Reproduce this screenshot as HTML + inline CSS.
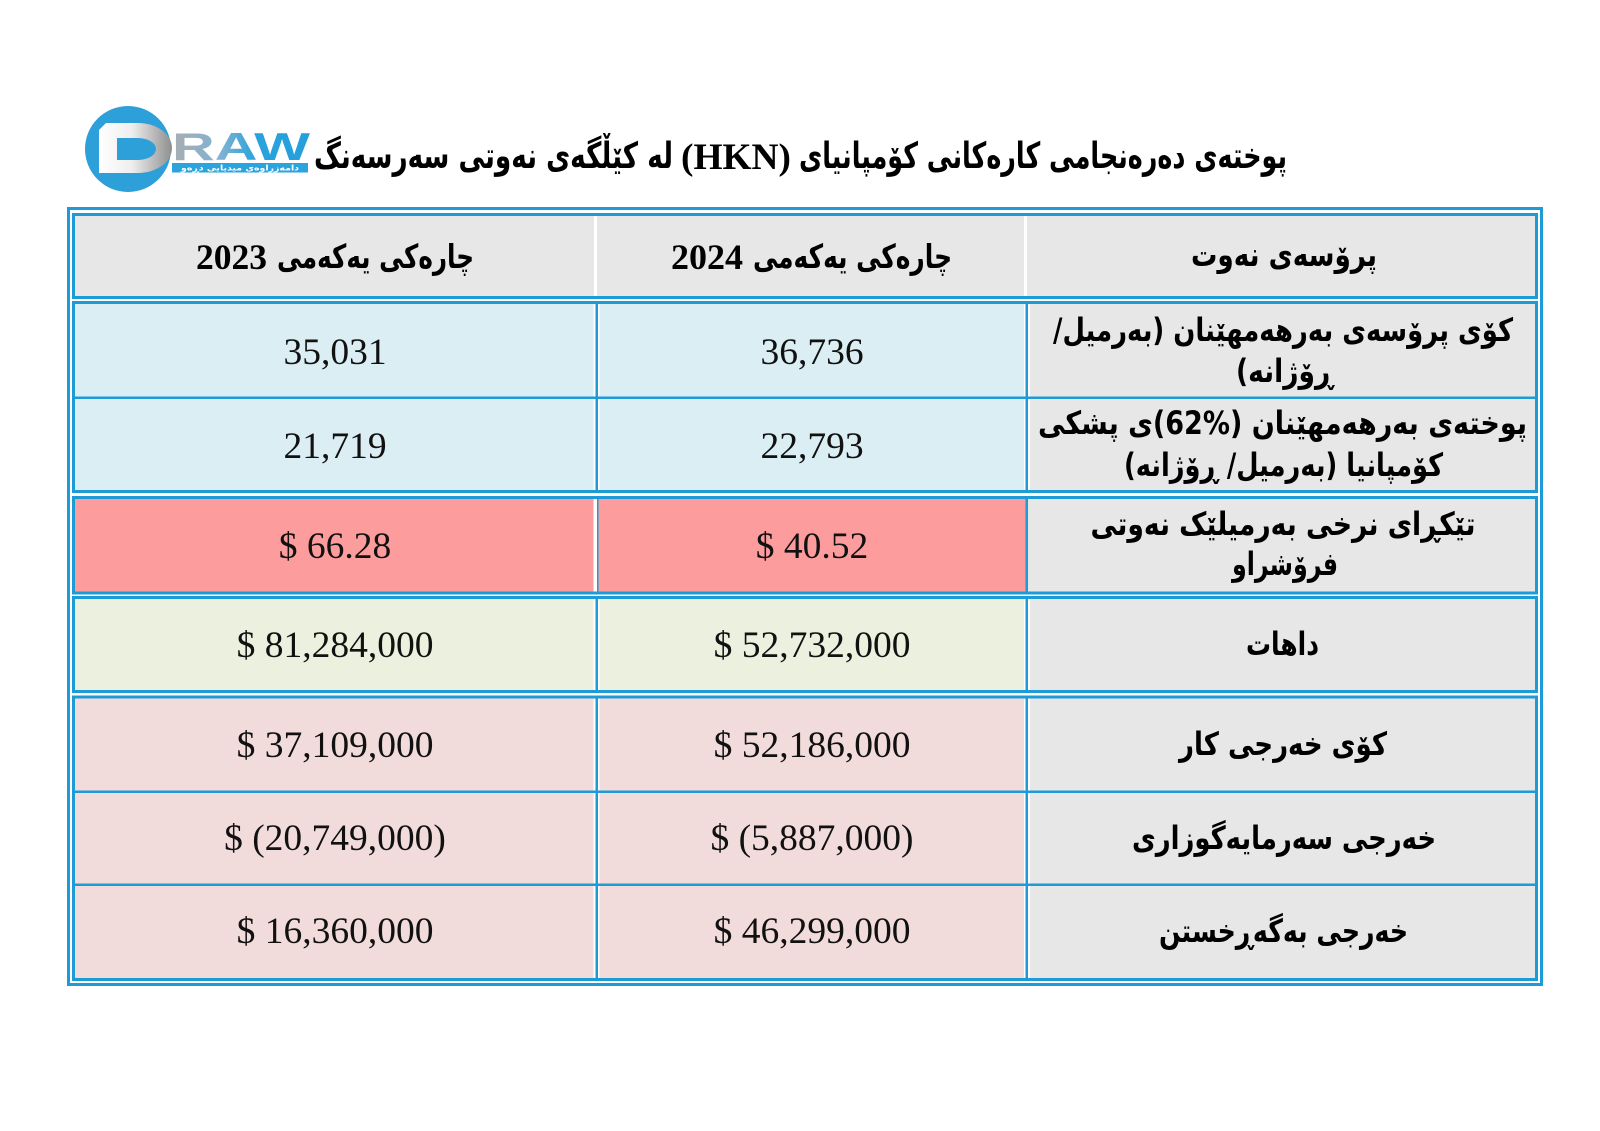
<!DOCTYPE html>
<html>
<head>
<meta charset="utf-8">
<style>
  html,body{margin:0;padding:0;background:#fff;}
  svg{display:block;}
  .ar{font-family:"DejaVu Sans",sans-serif;font-weight:bold;fill:#000;}
  .num{font-family:"Liberation Serif",serif;font-size:37.5px;fill:#111;}
  .lat{font-family:"Liberation Serif",serif;font-weight:bold;fill:#000;}
</style>
</head>
<body>
<svg width="1600" height="1131" viewBox="0 0 1600 1131" xmlns="http://www.w3.org/2000/svg">
  <defs>
    <linearGradient id="dgrad" x1="0" y1="0" x2="1" y2="0">
      <stop offset="0" stop-color="#ffffff"/>
      <stop offset="0.45" stop-color="#eeeeee"/>
      <stop offset="1" stop-color="#8f8f8f"/>
    </linearGradient>
    <linearGradient id="rawgrad" x1="0" y1="0" x2="1" y2="0">
      <stop offset="0" stop-color="#a9adb1"/>
      <stop offset="0.35" stop-color="#7fb3d3"/>
      <stop offset="0.6" stop-color="#2aa3dd"/>
      <stop offset="1" stop-color="#249fdc"/>
    </linearGradient>
  </defs>
  <rect width="1600" height="1131" fill="#ffffff"/>

  <!-- Logo -->
  <circle cx="128" cy="149" r="43" fill="#2d9fd9"/>
  <path d="M99,130 L106,123 H138 A34,25 0 0 1 138,173 H99 Z" fill="url(#dgrad)"/>
  <path d="M117,138 H138 A18,11 0 0 1 138,160 H117 Z" fill="#2d9fd9"/>
  <text x="172" y="160" font-family="Liberation Sans, sans-serif" font-weight="bold" font-size="39" textLength="138" lengthAdjust="spacingAndGlyphs" fill="url(#rawgrad)">RAW</text>
  <rect x="172" y="163" width="136" height="9.5" fill="#2ba3dd"/>
  <text x="240" y="170.5" direction="rtl" text-anchor="middle" font-family="DejaVu Sans, sans-serif" font-weight="bold" font-size="8" fill="#ffffff" textLength="118" lengthAdjust="spacingAndGlyphs">دامەزراوەی میدیایی دڕەو</text>

  <!-- Title -->
  <text class="ar" x="1043" y="168" direction="rtl" text-anchor="middle" font-size="36" textLength="488" lengthAdjust="spacingAndGlyphs">پوختەی دەرەنجامی کارەکانی کۆمپانیای</text>
  <text class="lat" x="681" y="169" font-size="37" textLength="110" lengthAdjust="spacingAndGlyphs">(HKN)</text>
  <text class="ar" x="493.5" y="168" direction="rtl" text-anchor="middle" font-size="36" textLength="359" lengthAdjust="spacingAndGlyphs">لە کێڵگەی نەوتی سەرسەنگ</text>

  <!-- Cell fills -->
  <rect x="75" y="216" width="1460" height="80" fill="#e7e7e7"/>
  <rect x="75" y="304" width="1460" height="186" fill="#e7e7e7"/>
  <rect x="75" y="304" width="952" height="186" fill="#dbeef4"/>
  <rect x="75" y="499" width="1460" height="93" fill="#e7e7e7"/>
  <rect x="75" y="499" width="952" height="93" fill="#fd9c9c"/>
  <rect x="75" y="599" width="1460" height="91" fill="#e7e7e7"/>
  <rect x="75" y="599" width="952" height="91" fill="#ebf1de"/>
  <rect x="75" y="698" width="1460" height="280" fill="#e7e7e7"/>
  <rect x="75" y="698" width="952" height="280" fill="#f2dcdb"/>

  <!-- header dividers (white) -->
  <rect x="594" y="216" width="3" height="80" fill="#ffffff"/>
  <rect x="1024" y="216" width="3" height="80" fill="#ffffff"/>

  <!-- body dividers -->
  <g fill="#ffffff">
    <rect x="593.5" y="304" width="6" height="186"/>
    <rect x="1024" y="304" width="6" height="186"/>
    <rect x="593.5" y="499" width="5" height="93"/>
    <rect x="1024" y="599" width="6" height="91"/>
    <rect x="593.5" y="599" width="6" height="91"/>
    <rect x="593.5" y="698" width="6" height="280"/>
    <rect x="1024" y="698" width="6" height="280"/>
  </g>
  <g fill="#1d9bd7">
    <rect x="595.5" y="304" width="2.5" height="186"/>
    <rect x="1025.5" y="304" width="2.5" height="186"/>
    <rect x="597" y="499" width="1.5" height="93"/>
    <rect x="1025.5" y="499" width="2.5" height="93"/>
    <rect x="595.5" y="599" width="2.5" height="91"/>
    <rect x="1025.5" y="599" width="2.5" height="91"/>
    <rect x="595.5" y="698" width="2.5" height="280"/>
    <rect x="1025.5" y="698" width="2.5" height="280"/>
    <rect x="75" y="396.5" width="1460" height="2.5"/>
    <rect x="75" y="790.5" width="1460" height="2.5"/>
    <rect x="75" y="883.5" width="1460" height="2.5"/>
  </g>

  <!-- Borders -->
  <g fill="none" stroke="#1d9bd7" stroke-width="3">
    <rect x="68.5" y="208.5" width="1473" height="776"/>
    <rect x="73.5" y="214.5" width="1463" height="83"/>
    <rect x="73.5" y="302.5" width="1463" height="189"/>
    <rect x="73.5" y="497.5" width="1463" height="95.5"/>
    <rect x="73.5" y="597.5" width="1463" height="94"/>
    <rect x="73.5" y="697" width="1463" height="282.5"/>
  </g>

  <!-- Header texts -->
  <text class="lat" x="196" y="269" font-size="36" textLength="71" lengthAdjust="spacingAndGlyphs">2023</text>
  <text class="ar" x="375.5" y="268" direction="rtl" text-anchor="middle" font-size="33" textLength="197" lengthAdjust="spacingAndGlyphs">چارەکی یەکەمی</text>
  <text class="lat" x="671" y="269" font-size="36" textLength="72" lengthAdjust="spacingAndGlyphs">2024</text>
  <text class="ar" x="852.5" y="268" direction="rtl" text-anchor="middle" font-size="33" textLength="199" lengthAdjust="spacingAndGlyphs">چارەکی یەکەمی</text>
  <text class="ar" x="1284" y="266" direction="rtl" text-anchor="middle" font-size="33" textLength="186" lengthAdjust="spacingAndGlyphs">پرۆسەی نەوت</text>

  <!-- Label column -->
  <text class="ar" x="1283" y="341" direction="rtl" text-anchor="middle" font-size="32" textLength="460" lengthAdjust="spacingAndGlyphs">کۆی پرۆسەی بەرهەمهێنان (بەرمیل/</text>
  <text class="ar" x="1284.5" y="382" direction="rtl" text-anchor="middle" font-size="32" textLength="97" lengthAdjust="spacingAndGlyphs">ڕۆژانە)</text>

  <text class="ar" x="1282.5" y="434" direction="rtl" text-anchor="middle" font-size="32" textLength="489" lengthAdjust="spacingAndGlyphs">پوختەی بەرهەمهێنان (%62)ی پشکی</text>
  <text class="ar" x="1283.5" y="476" direction="rtl" text-anchor="middle" font-size="32" textLength="319" lengthAdjust="spacingAndGlyphs">کۆمپانیا (بەرمیل/ ڕۆژانە)</text>

  <text class="ar" x="1283" y="535" direction="rtl" text-anchor="middle" font-size="32" textLength="385" lengthAdjust="spacingAndGlyphs">تێکڕای نرخی بەرمیلێک نەوتی</text>
  <text class="ar" x="1285" y="575" direction="rtl" text-anchor="middle" font-size="32" textLength="106" lengthAdjust="spacingAndGlyphs">فرۆشراو</text>

  <text class="ar" x="1282.5" y="655" direction="rtl" text-anchor="middle" font-size="32" textLength="73" lengthAdjust="spacingAndGlyphs">داهات</text>
  <text class="ar" x="1283" y="755" direction="rtl" text-anchor="middle" font-size="32" textLength="208" lengthAdjust="spacingAndGlyphs">کۆی خەرجی کار</text>
  <text class="ar" x="1284" y="849" direction="rtl" text-anchor="middle" font-size="32" textLength="304" lengthAdjust="spacingAndGlyphs">خەرجی سەرمایەگوزاری</text>
  <text class="ar" x="1283.5" y="942" direction="rtl" text-anchor="middle" font-size="32" textLength="249" lengthAdjust="spacingAndGlyphs">خەرجی بەگەڕخستن</text>

  <!-- Numbers col 2023 -->
  <g class="num" text-anchor="middle">
    <text x="335" y="364">35,031</text>
    <text x="335" y="458">21,719</text>
    <text x="335" y="558">$ 66.28</text>
    <text x="335" y="657">$ 81,284,000</text>
    <text x="335" y="757">$ 37,109,000</text>
    <text x="335" y="850">$ (20,749,000)</text>
    <text x="335" y="943">$ 16,360,000</text>
  </g>
  <!-- Numbers col 2024 -->
  <g class="num" text-anchor="middle">
    <text x="812" y="364">36,736</text>
    <text x="812" y="458">22,793</text>
    <text x="812" y="558">$ 40.52</text>
    <text x="812" y="657">$ 52,732,000</text>
    <text x="812" y="757">$ 52,186,000</text>
    <text x="812" y="850">$ (5,887,000)</text>
    <text x="812" y="943">$ 46,299,000</text>
  </g>
</svg>
</body>
</html>
